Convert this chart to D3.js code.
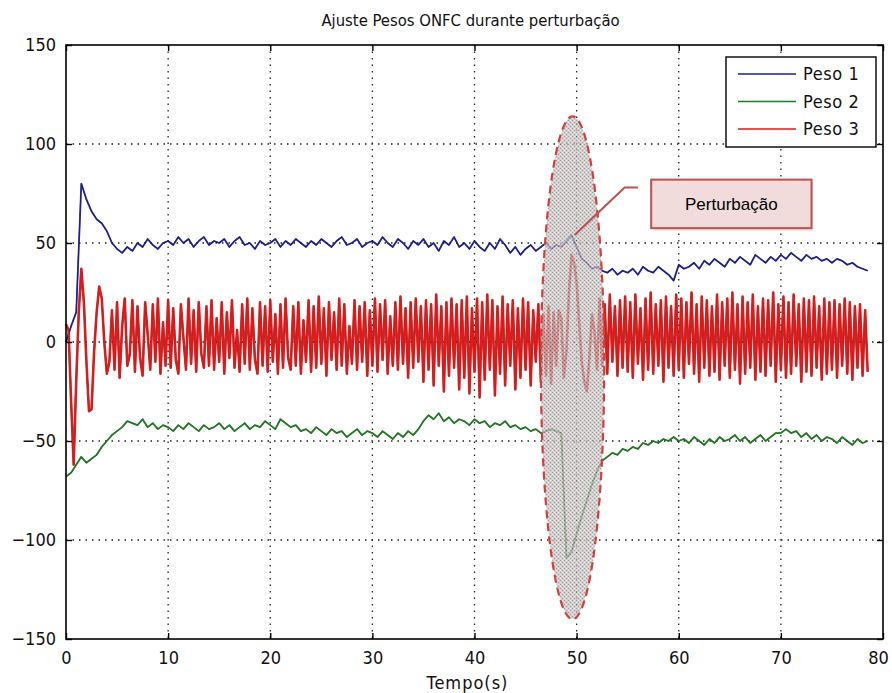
<!DOCTYPE html>
<html><head><meta charset="utf-8">
<script src="https://cdn.jsdelivr.net/npm/d3@7/dist/d3.min.js"></script>
<style>body{margin:0;background:#fff}svg{display:block}</style></head>
<body><svg id="c" width="892" height="693"></svg>
<script>
// ---------------- data ----------------
const chartTitle = "Ajuste Pesos ONFC durante perturbação";
const xAxisLabel = "Tempo(s)";
const xTickValues = [0, 10, 20, 30, 40, 50, 60, 70, 80];
const yTickValues = [-150, -100, -50, 0, 50, 100, 150];
const seriesNames = ["Peso 1", "Peso 2", "Peso 3"];
const sampleStepSlow = 0.5;   // s, Peso 1 and Peso 2
const sampleStepFast = 0.25;  // s, Peso 3
const peso1 = [
  0, 8, 15, 80, 72, 66, 62, 60, 56, 50,
  47, 45, 48, 46, 50, 48, 52, 49, 47, 50,
  51, 49, 53, 50, 52, 48, 51, 53, 49, 51,
  50, 52, 48, 51, 53, 49, 50, 47, 51, 49,
  50, 52, 48, 51, 49, 52, 50, 48, 51, 49,
  52, 50, 48, 51, 53, 49, 50, 52, 48, 50,
  51, 49, 53, 50, 48, 52, 50, 47, 51, 49,
  52, 48, 50, 46, 51, 49, 53, 48, 50, 47,
  51, 48, 46, 50, 47, 52, 49, 45, 48, 44,
  47, 49, 46, 48, 50, 47, 49, 48, 51, 54,
  48, 42, 40, 37, 38, 36, 35, 37, 34, 36,
  35, 37, 34, 38, 36, 35, 38, 36, 34, 31,
  39, 37, 38, 40, 37, 41, 39, 42, 40, 38,
  42, 40, 43, 41, 39, 44, 42, 40, 43, 41,
  44, 42, 45, 43, 41, 44, 42, 43, 41, 42,
  40, 42, 41, 39, 40, 38, 37, 36
];
const peso2 = [
  -68, -66, -62, -58, -61, -59, -57, -53, -50, -47,
  -45, -43, -40, -41, -42, -39, -43, -41, -44, -42,
  -43, -45, -42, -44, -41, -43, -45, -42, -44, -43,
  -41, -44, -42, -45, -43, -41, -44, -42, -43, -40,
  -42, -44, -39, -41, -43, -42, -45, -44, -46, -43,
  -45, -47, -44, -46, -45, -48, -46, -44, -47, -45,
  -46, -48, -45, -47, -49, -46, -48, -45, -47, -44,
  -40, -37, -39, -36, -40, -38, -41, -39, -40, -42,
  -39, -41, -40, -43, -41, -42, -40, -43, -42, -44,
  -43, -45, -44, -46, -45, -44, -45, -46, -109, -106,
  -97, -88, -80, -72, -65, -60, -58, -56, -57, -54,
  -55, -53, -54, -51, -52, -50, -51, -49, -50, -48,
  -50, -49, -51, -48, -50, -52, -49, -51, -48, -50,
  -49, -47, -50, -48, -51, -49, -47, -50, -48, -46,
  -46, -44, -46, -45, -48, -46, -49, -47, -50, -48,
  -49, -51, -48, -50, -52, -49, -51, -50
];
const peso3 = [
  9, 6, -30, -62, -20, 15, 37, 20, -10, -35, -34, -5, 15, 28, 22, 0, -16, -10, 16, -14,
  20, -18, 8, 22, -12, -6, 21, -15, 18, -8, -17, 20, 4, -14, 19, -10, 22, -16, 10, -12,
  21, -13, 17, -9, -16, 19, 2, -14, 22, -11, 16, -15, 20, -6, -13, 18, -12, 21, -14, 12,
  -10, 20, -16, 15, -8, 21, -13, 6, -15, 19, -11, 22, -14, 17, -9, -16, 20, -12, 18, -15,
  21, -10, 14, -16, 19, -13, 22, -8, -14, 18, -12, 20, -16, 11, -10, 21, -15, 18, -13, 23,
  -11, 17, -17, 20, -9, 15, -14, 22, -12, 19, -16, 8, -11, 21, -14, 18, -10, 20, -17, 16,
  -12, 22, -15, 19, -9, 21, -16, 13, -12, 20, -14, 23, -11, 17, -18, 20, -13, 22, -10, 18,
  -20, 21, -14, 19, -22, 24, -12, 18, -25, 20, -17, 22, -13, 19, -24, 21, -18, 23, -26, 17,
  -15, 22, -28, 20, -19, 24, -14, 21, -27, 18, -16, 23, -22, 19, -12, 21, -24, 17, -18, 22,
  -14, 20, -22, 16, -10, 19, -20, 14, -17, 18, -21, 15, -12, 16, 12, -18, -5, 25, 44, 40,
  30, 10, -10, -20, -25, -8, 14, 5, -14, 22, -12, 19, -16, 24, -10, 18, -17, 21, -13, 23,
  -15, 20, -18, 24, -11, 17, -19, 22, -14, 25, -16, 19, -12, 21, -20, 23, -13, 18, -17, 24,
  -14, 22, -18, 20, -11, 25, -16, 19, -20, 23, -13, 21, -17, 18, -15, 24, -19, 20, -12, 22,
  -18, 25, -14, 19, -21, 23, -16, 20, -13, 24, -19, 18, -15, 22, -17, 21, -12, 25, -20, 19,
  -14, 23, -18, 20, -16, 24, -12, 19, -20, 22, -15, 21, -17, 23, -13, 18, -19, 22, -16, 20,
  -14, 21, -18, 19, -12, 22, -16, 20, -19, 18, -13, 19, -17, 16, -15
];
// highlighted disturbance region (data units): centre time/value, half-width, half-height
const perturbCenter = [49.6, -13];
const perturbHalf = [3.1, 127];
const calloutText = "Perturbação";
const calloutBox = [57.3, 82, 73, 57.5];   // t0, v0, t1, v1
const calloutLeader = [[49.8, 54], [54.7, 78], [56, 78]];

// ---------------- drawing ----------------
const svg = d3.select("#c");
const W = 892, H = 693;
const mL = 66, mR = 883, mT = 45, mB = 639;
const x = d3.scaleLinear().domain([0, 80]).range([mL, mR]);
const y = d3.scaleLinear().domain([-150, 150]).range([mB, mT]);
const FONT = "'Liberation Sans Narrow','DejaVu Sans Condensed','Arial Narrow',sans-serif";

svg.append("rect").attr("width", W).attr("height", H).attr("fill", "#fff");

// grid
const grid = svg.append("g").attr("stroke", "#222").attr("stroke-width", 1.3)
  .attr("stroke-dasharray", "1.5,5");
xTickValues.slice(1, -1).forEach(v => grid.append("line")
  .attr("x1", x(v)).attr("x2", x(v)).attr("y1", mT).attr("y2", mB));
yTickValues.slice(1, -1).forEach(v => grid.append("line")
  .attr("y1", y(v)).attr("y2", y(v)).attr("x1", mL).attr("x2", mR));

// series
const colors = ["#1a1aa0", "#17801a", "#ee1111"];
const edgeColors = ["#10105a", "#0d4a10", "#8a1010"];
const data = [
  peso1.map((v, i) => [i * sampleStepSlow, v]),
  peso2.map((v, i) => [i * sampleStepSlow, v]),
  peso3.map((v, i) => [i * sampleStepFast, v])
];
const line = d3.line().x(d => x(d[0])).y(d => y(d[1]));
const lines = svg.append("g").attr("fill", "none").attr("stroke-linejoin", "round");
data.forEach((d, k) => {
  lines.append("path").datum(d).attr("d", line)
    .attr("stroke", edgeColors[k]).attr("stroke-width", k === 2 ? 2.6 : 1.8).attr("stroke-opacity", 0.8);
  lines.append("path").datum(d).attr("d", line)
    .attr("stroke", colors[k]).attr("stroke-width", k === 2 ? 1.6 : 1.1);
});

// axes (ticks inward, box)
const axG = svg.append("g");
const tickLen = 6;
const axB = d3.axisBottom(x).tickValues(xTickValues).tickSize(-tickLen).tickPadding(tickLen + 6);
const axT = d3.axisTop(x).tickValues(xTickValues).tickSize(-tickLen).tickFormat("");
const axL = d3.axisLeft(y).tickValues(yTickValues).tickSize(-tickLen).tickPadding(tickLen + 4);
const axR = d3.axisRight(y).tickValues(yTickValues).tickSize(-tickLen).tickFormat("");
[[axB, `translate(0,${mB})`], [axT, `translate(0,${mT})`],
 [axL, `translate(${mL},0)`], [axR, `translate(${mR},0)`]].forEach(([a, t]) => {
  const g = axG.append("g").attr("transform", t).call(a);
  g.select(".domain").remove();
  g.selectAll(".tick line").attr("stroke", "#000").attr("stroke-width", 1.4);
  g.selectAll("text").attr("font-family", FONT).attr("font-size", 18).attr("fill", "#111");
  if (a === axB) g.selectAll(".tick text").filter(d => d === 80).attr("dx", -5);
});
axG.append("rect").attr("x", mL).attr("y", mT).attr("width", mR - mL).attr("height", mB - mT)
  .attr("fill", "none").attr("stroke", "#000").attr("stroke-width", 1.6);

// title & label
svg.append("text").attr("x", (mL + mR) / 2 - 4).attr("y", 26).attr("text-anchor", "middle")
  .attr("font-family", FONT).attr("font-size", 16.5).attr("fill", "#111").text(chartTitle);
svg.append("text").attr("x", (mL + mR) / 2 - 7).attr("y", 689).attr("text-anchor", "middle")
  .attr("font-family", FONT).attr("font-size", 18).attr("letter-spacing", 1).attr("fill", "#111").text(xAxisLabel);

// legend
const lg = svg.append("g");
lg.append("rect").attr("x", 726).attr("y", 57).attr("width", 150).attr("height", 90)
  .attr("fill", "#fff").attr("stroke", "#000").attr("stroke-width", 1.4);
seriesNames.forEach((n, k) => {
  const yy = 74 + k * 27.5;
  lg.append("line").attr("x1", 738).attr("x2", 796).attr("y1", yy).attr("y2", yy)
    .attr("stroke", colors[k]).attr("stroke-width", 1.4);
  lg.append("text").attr("x", 803).attr("y", yy + 6).attr("font-family", FONT)
    .attr("font-size", 18).attr("letter-spacing", 0.6).attr("fill", "#111").text(n);
});

// disturbance highlight
const defs = svg.append("defs");
const pat = defs.append("pattern").attr("id", "hatch").attr("patternUnits", "userSpaceOnUse")
  .attr("width", 4).attr("height", 4);
pat.append("rect").attr("width", 4).attr("height", 4).attr("fill", "#c4bcbc");
pat.append("rect").attr("x", 0).attr("y", 0).attr("width", 1).attr("height", 1).attr("fill", "#7c7474");
pat.append("rect").attr("x", 2).attr("y", 2).attr("width", 1).attr("height", 1).attr("fill", "#7c7474");
pat.append("rect").attr("x", 2).attr("y", 0).attr("width", 1).attr("height", 1).attr("fill", "#ece6e6");
pat.append("rect").attr("x", 0).attr("y", 2).attr("width", 1).attr("height", 1).attr("fill", "#ece6e6");
const cx = x(perturbCenter[0]), cy = y(perturbCenter[1]);
const rx = x(perturbCenter[0] + perturbHalf[0]) - cx;
const ry = cy - y(perturbCenter[1] + perturbHalf[1]);
svg.append("ellipse").attr("cx", cx).attr("cy", cy).attr("rx", rx).attr("ry", ry)
  .attr("fill", "url(#hatch)").attr("fill-opacity", 0.72);
svg.append("ellipse").attr("cx", cx).attr("cy", cy).attr("rx", rx).attr("ry", ry)
  .attr("fill", "none").attr("stroke", "#d0403c").attr("stroke-width", 2.2)
  .attr("stroke-dasharray", "8,5");

// callout
svg.append("path").attr("d", d3.line().x(d => x(d[0])).y(d => y(d[1]))(calloutLeader))
  .attr("fill", "none").attr("stroke", "#c0504d").attr("stroke-width", 2);
const bx0 = x(calloutBox[0]), by0 = y(calloutBox[1]), bx1 = x(calloutBox[2]), by1 = y(calloutBox[3]);
svg.append("rect").attr("x", bx0 + 2).attr("y", by0 + 3).attr("width", bx1 - bx0).attr("height", by1 - by0)
  .attr("fill", "#d8d4d4").attr("opacity", 0.6);
svg.append("rect").attr("x", bx0).attr("y", by0).attr("width", bx1 - bx0).attr("height", by1 - by0)
  .attr("fill", "#f2dcdb").attr("stroke", "#c0504d").attr("stroke-width", 2);
svg.append("text").attr("x", (bx0 + bx1) / 2).attr("y", (by0 + by1) / 2 + 6).attr("text-anchor", "middle")
  .attr("font-family", "'Liberation Sans',Arial,sans-serif").attr("font-size", 17).attr("fill", "#000")
  .text(calloutText);
</script></body></html>
